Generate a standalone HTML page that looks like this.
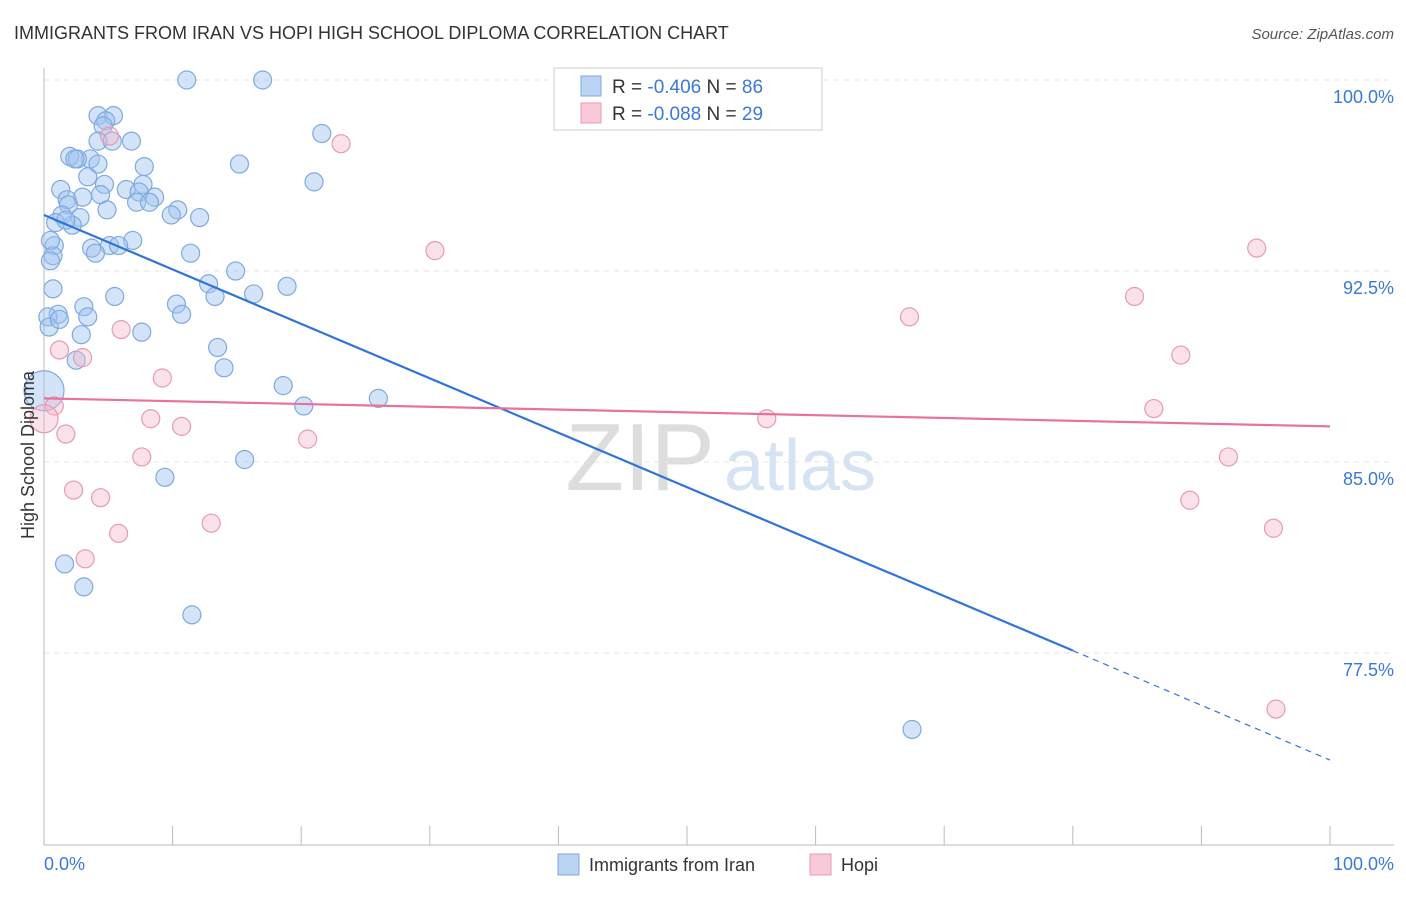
<!DOCTYPE html>
<html><head><meta charset="utf-8"><style>
body{margin:0;background:#fff;font-family:"Liberation Sans",sans-serif}
svg text{font-family:"Liberation Sans",sans-serif}
</style></head><body>
<svg id="chart" width="1406" height="892">
<text x="14" y="39" font-size="18" fill="#333">IMMIGRANTS FROM IRAN VS HOPI HIGH SCHOOL DIPLOMA CORRELATION CHART</text>
<text x="1394" y="39" font-size="15" fill="#555" font-style="italic" text-anchor="end">Source: ZipAtlas.com</text>
<text x="640" y="490" font-size="96" fill="#ddd" font-family="Liberation Serif" text-anchor="middle">ZIP</text>
<text x="800" y="490" font-size="72" fill="#d6e3f3" text-anchor="middle">atlas</text>
<g id="grid"></g><g id="axes"></g><g id="pts"></g><g id="trend"></g>
<text transform="translate(34,455) rotate(-90)" font-size="18" fill="#333" text-anchor="middle">High School Diploma</text>
<text x="44" y="870" font-size="18" fill="#3b78d8">0.0%</text>
<text x="1394" y="870" font-size="18" fill="#3b78d8" text-anchor="end">100.0%</text>
<g>
<rect x="554" y="68" width="268" height="62" fill="#fff" stroke="#ccc"/>
<rect x="581" y="76" width="20" height="20" fill="#bcd4f4" stroke="#7fa9e0"/>
<rect x="581" y="103" width="20" height="20" fill="#f8c9d8" stroke="#e89ab3"/>
<text x="612" y="93" font-size="19" fill="#333">R = <tspan fill="#3b78d8">-0.406</tspan>    N = <tspan fill="#3b78d8">86</tspan></text>
<text x="612" y="120" font-size="19" fill="#333">R = <tspan fill="#3b78d8">-0.088</tspan>    N = <tspan fill="#3b78d8">29</tspan></text>
</g>
<g>
<rect x="558" y="854" width="21" height="21" fill="#bcd4f4" stroke="#7fa9e0"/>
<text x="589" y="871" font-size="18" fill="#333">Immigrants from Iran</text>
<rect x="810" y="854" width="21" height="21" fill="#f8c9d8" stroke="#e89ab3"/>
<text x="841" y="871" font-size="18" fill="#333">Hopi</text>
</g>
</svg>
<script>
const yTicks=[100,92.5,85,77.5];
const yTickLabels=["100.0%","92.5%","85.0%","77.5%"];
const xTicks=[0,10,20,30,40,50,60,70,80,90,100];
const iranX=[11.1,17.0,4.2,5.4,4.8,4.6,21.6,4.2,5.3,6.8,2.0,3.6,2.6,7.8,4.2,15.2,3.4,4.7,7.7,1.3,6.4,7.4,21.0,8.6,1.8,3.0,4.4,1.9,7.2,8.2,4.9,10.4,1.4,2.8,9.9,12.1,0.9,2.2,1.7,6.9,0.8,5.1,5.8,3.7,4.0,11.4,0.7,0.5,14.9,12.8,18.9,0.7,5.5,16.3,13.3,10.3,3.1,10.7,1.1,3.4,0.3,0.4,7.6,2.9,13.5,2.5,14.0,18.6,26.0,20.2,15.6,9.4,1.6,3.1,11.5,67.5,1.2,0.5,2.4,0];
const iranY=[100,100,98.6,98.6,98.4,98.2,97.9,97.6,97.6,97.6,97.0,96.9,96.9,96.6,96.7,96.7,96.2,95.9,95.9,95.7,95.7,95.6,96.0,95.4,95.3,95.4,95.5,95.1,95.2,95.2,94.9,94.9,94.7,94.6,94.7,94.6,94.4,94.3,94.5,93.7,93.5,93.5,93.5,93.4,93.2,93.2,93.1,92.9,92.5,92.0,91.9,91.8,91.5,91.6,91.5,91.2,91.1,90.8,90.8,90.7,90.7,90.3,90.1,90.0,89.5,89.0,88.7,88.0,87.5,87.2,85.1,84.4,81.0,80.1,79.0,74.5,90.6,93.7,96.9,87.8];
const hopiX=[23.1,5.1,30.4,94.3,84.8,67.3,6.0,1.2,3.0,88.4,9.2,0.8,86.3,8.3,56.2,10.7,1.7,20.5,7.6,92.1,2.3,4.4,89.1,13.0,5.8,95.6,3.2,95.8,0];
const hopiY=[97.5,97.8,93.3,93.4,91.5,90.7,90.2,89.4,89.1,89.2,88.3,87.2,87.1,86.7,86.7,86.4,86.1,85.9,85.2,85.2,83.9,83.6,83.5,82.6,82.2,82.4,81.2,75.3,86.7];
const iranTrend=[94.7,77.6,73.3]; // at x=0, 80, 100
const hopiTrend=[87.5,86.4]; // at x=0, 100
const X=v=>44+v*12.86, Y=v=>80+(100-v)*25.47;
const NS="http://www.w3.org/2000/svg";
function mk(t,a,p){const e=document.createElementNS(NS,t);for(const k in a)e.setAttribute(k,a[k]);p.appendChild(e);return e;}
const grid=document.getElementById('grid'),axes=document.getElementById('axes'),pts=document.getElementById('pts'),tr=document.getElementById('trend');
yTicks.forEach((v,i)=>{
 const l=mk('line',{x1:44,x2:1394,y1:Y(v),y2:Y(v),stroke:'#e4e4e4','stroke-dasharray':'5,5'},grid);
 
 
 const t=mk('text',{x:1394,y:Y(v)+23,'font-size':18,fill:'#3b78d8','text-anchor':'end'},grid);
 t.textContent=yTickLabels[i];
 
 
});
const ax=mk('line',{x1:44,x2:1394,y1:845,y2:845,stroke:'#bbb'},axes);


const ay=mk('line',{x1:44,x2:44,y1:68,y2:845,stroke:'#bbb'},axes);


xTicks.forEach(v=>{
 const t=mk('line',{x1:X(v),x2:X(v),y1:826,y2:845,stroke:'#bbb'},axes);
 
 
});
iranX.forEach((x,i)=>{
 const c=mk('circle',{cx:X(x),cy:Y(iranY[i]),r:i===iranX.length-1?20:9,fill:'rgba(160,195,240,0.45)',stroke:'#7fa9e0','stroke-width':1.2},pts);
 
 
});
hopiX.forEach((x,i)=>{
 const c=mk('circle',{cx:X(x),cy:Y(hopiY[i]),r:i===hopiX.length-1?14:9,fill:'rgba(245,180,200,0.4)',stroke:'#e89ab3','stroke-width':1.2},pts);
 
 
});
const b1=mk('line',{x1:X(0),y1:Y(iranTrend[0]),x2:X(80),y2:Y(iranTrend[1]),stroke:'#2f74d8','stroke-width':2.2},tr);


const b2=mk('line',{x1:X(80),y1:Y(iranTrend[1]),x2:X(100),y2:Y(iranTrend[2]),stroke:'#2f74d8','stroke-width':1.2,'stroke-dasharray':'6,5'},tr);


const p1=mk('line',{x1:X(0),y1:Y(hopiTrend[0]),x2:X(100),y2:Y(hopiTrend[1]),stroke:'#e8729a','stroke-width':2.2},tr);


</script>
</body></html>
